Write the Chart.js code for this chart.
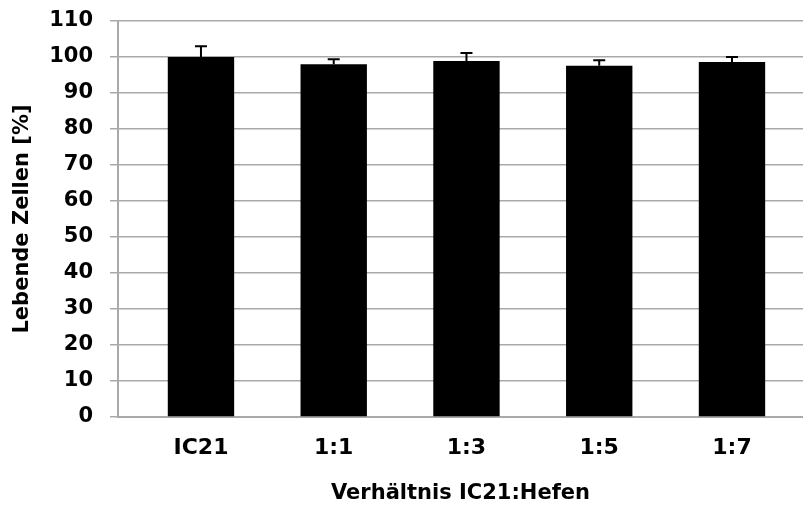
<!DOCTYPE html>
<html>
<head>
<meta charset="utf-8">
<script src="https://cdn.jsdelivr.net/npm/chart.js@4"></script>
<style>
  html, body { margin: 0; padding: 0; background: #fff; overflow: hidden; }
  #wrap { width: 803px; height: 506px; }
</style>
</head>
<body>
<div id="wrap"><canvas id="chart"></canvas></div>
<script>
const categories = ["IC21", "1:1", "1:3", "1:5", "1:7"];
const means = [100, 98.0, 98.9, 97.6, 98.6];
const errors = [3.0, 1.4, 2.2, 1.5, 1.4];
const yTicks = [0, 10, 20, 30, 40, 50, 60, 70, 80, 90, 100, 110];

const FONT = "'DejaVu Sans', sans-serif";
const GRID = "#a9a9a9";

// error bars (upper half only, lower half is hidden by the black bar)
const errorBars = {
  id: "errorBars",
  afterDatasetsDraw(chart) {
    const { ctx, scales: { x, y } } = chart;
    ctx.save();
    ctx.strokeStyle = "#000";
    ctx.lineWidth = 2;
    means.forEach((m, i) => {
      const px = x.getPixelForValue(i);
      const top = y.getPixelForValue(m + errors[i]);
      const base = y.getPixelForValue(m);
      ctx.beginPath();
      ctx.moveTo(px, base);
      ctx.lineTo(px, top);
      ctx.moveTo(px - 6, top);
      ctx.lineTo(px + 6, top);
      ctx.stroke();
    });
    ctx.restore();
  }
};

new Chart(document.getElementById("chart"), {
  type: "bar",
  data: {
    datasets: [{
      data: categories.map((c, i) => ({ x: i, y: means[i] })),
      backgroundColor: "#000",
      borderWidth: 0,
      barPercentage: 1,
      categoryPercentage: 0.5
    }]
  },
  options: {
    responsive: true,
    maintainAspectRatio: false,
    animation: false,
    layout: { padding: { top: 21, right: 0, left: 0, bottom: 0 } },
    plugins: { legend: { display: false }, tooltip: { enabled: false } },
    scales: {
      x: {
        type: "linear",
        offset: false,
        bounds: "ticks",
        min: -0.625,
        max: 4.535,
        afterBuildTicks: (s) => { s.ticks = categories.map((c, i) => ({ value: i })); },
        afterFit: (s) => { s.height = 89; s.paddingLeft = 0; s.paddingRight = 0; },
        grid: { display: true, drawOnChartArea: false, drawTicks: false, offset: false },
        border: { display: true, color: GRID, width: 2 },
        ticks: {
          color: "#000",
          padding: 18,
          maxRotation: 0,
          autoSkip: false,
          font: { family: FONT, size: 22, weight: "bold" },
          callback: (v) => categories[v]
        },
        title: {
          display: true,
          text: "Verhältnis IC21:Hefen",
          color: "#000",
          padding: { top: 0, bottom: 0 },
          font: { family: FONT, size: 21, weight: "bold" }
        }
      },
      y: {
        min: 0,
        max: 110,
        afterBuildTicks: (s) => { s.ticks = yTicks.map((v) => ({ value: v })); },
        afterFit: (s) => { s.width = 118; s.paddingTop = 0; s.paddingBottom = 0; },
        grid: { color: GRID, lineWidth: 1.5, tickLength: 8, drawTicks: true },
        border: { display: true, color: GRID, width: 2 },
        ticks: {
          color: "#000",
          padding: 17,
          font: { family: FONT, size: 21, weight: "bold" }
        },
        title: {
          display: true,
          text: "Lebende Zellen [%]",
          color: "#000",
          padding: { top: 10, bottom: 0 },
          font: { family: FONT, size: 21, weight: "bold" }
        }
      }
    }
  },
  plugins: [errorBars]
});
</script>
</body>
</html>
